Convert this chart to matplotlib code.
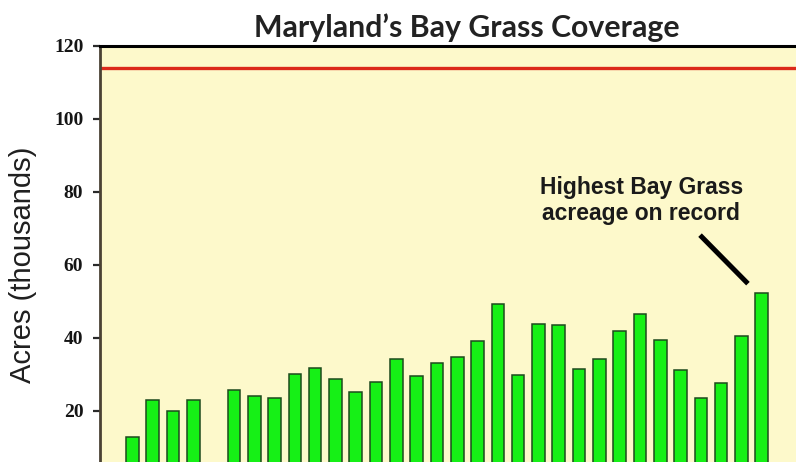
import matplotlib
matplotlib.use("Agg")
import matplotlib.pyplot as plt

# Bay grass acreage (thousands of acres) by survey year; 1988 was not surveyed
years = list(range(1984, 2016))
acres = [12.8, 23.0, 19.8, 23.0, None, 25.6, 24.0, 23.5, 30.0, 31.6,
         28.8, 25.1, 27.8, 34.2, 29.4, 33.2, 34.7, 39.1, 49.3, 29.9,
         43.8, 43.4, 31.5, 34.3, 41.7, 46.6, 39.5, 31.1, 23.6, 27.7,
         40.6, 52.3]
goal = 114
yticks = [20, 40, 60, 80, 100, 120]

bar_x = [y for y, a in zip(years, acres) if a is not None]
bar_h = [a for a in acres if a is not None]

fig = plt.figure(figsize=(7.96, 4.62), dpi=100)
fig.patch.set_facecolor("white")

# axes runs past the right and bottom edges of the figure
ax = fig.add_axes([100 / 796, -21.7 / 462, 720 / 796, 438 / 462])
ax.set_facecolor("#fdf9cb")

ax.bar(bar_x, bar_h, width=0.62, color="#16f016", edgecolor="#1d4a1d",
       linewidth=1.1, zorder=3)
ax.axhline(goal, color="#dc2a1a", lw=2.4, zorder=2)

ax.set_xlim(1982.4, 2017.87)
ax.set_ylim(0, 120)
ax.set_yticks(yticks)
ax.set_yticklabels([str(t) for t in yticks], fontfamily="Liberation Serif",
                   fontweight="bold", fontsize=14, color="#151515")
ax.tick_params(axis="y", direction="out", length=5, width=1.6,
               color="#2a2a2a", pad=7)
ax.tick_params(axis="x", bottom=False, labelbottom=False)

for side in ["right", "bottom"]:
    ax.spines[side].set_visible(False)
ax.spines["top"].set_color("black")
ax.spines["top"].set_linewidth(2.2)
ax.spines["left"].set_color("#4a4234")
ax.spines["left"].set_linewidth(2.0)

ax.set_ylabel("Acres (thousands)", fontfamily="Liberation Sans",
              fontsize=21, color="#1f1f1f", labelpad=12)

fig.text(466.5 / 796, 434 / 462, "Maryland\u2019s Bay Grass Coverage",
         ha="center", va="center", fontfamily="Lato", fontweight="bold",
         fontsize=21.8, color="#222222")

# callout for the record year
rec_year = bar_x[-1]
rec_val = bar_h[-1]
ax.text(2009.07, 77.6, "Highest Bay Grass\nacreage on record",
        ha="center", va="center", fontfamily="Liberation Sans",
        fontweight="bold", fontsize=16.5, color="#1a1a1a", linespacing=1.15)
ax.plot([rec_year - 3.04, rec_year - 0.68], [rec_val + 15.8, rec_val + 2.5],
        color="black", lw=3.6, solid_capstyle="butt", zorder=4)

plt.savefig("out.png", dpi=100)
plt.close()
